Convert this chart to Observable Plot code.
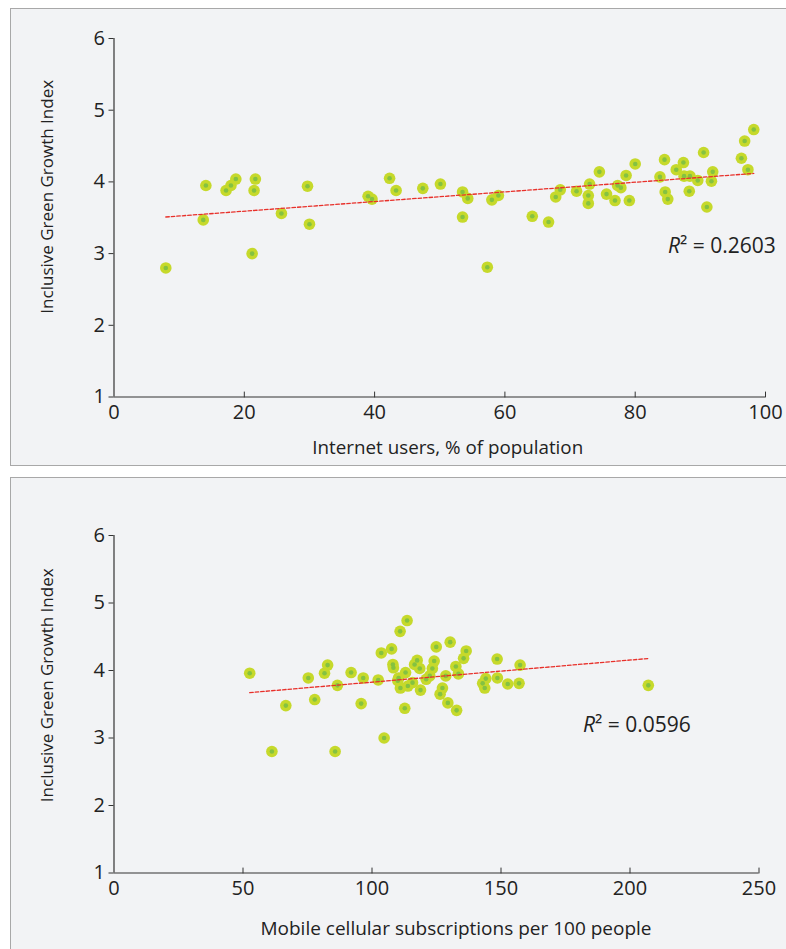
<!DOCTYPE html>
<html><head><meta charset="utf-8">
<script src="https://cdn.jsdelivr.net/npm/d3@7"></script>
<script src="https://cdn.jsdelivr.net/npm/@observablehq/plot@0.6"></script>
<style>
body{margin:0;background:#fff;width:786px;height:949px;overflow:hidden;position:relative;font-family:"Open Sans",sans-serif;}
.panel{position:absolute;left:10px;width:800px;background:#f2f3f5;border:1px solid #a8a8a8;overflow:hidden;}
#p1{top:8px;height:456px;}
#p2{top:477px;height:500px;}
.r2{position:absolute;font-size:21px;line-height:24px;color:#222;white-space:nowrap;}
</style></head><body>
<div class="panel" id="p1"></div>
<div class="panel" id="p2"></div>
<div class="r2" id="r2a"></div>
<div class="r2" id="r2b"></div>
<script>
// Top chart: Internet users (% of population) vs IGGI
const internetUsers = [7.95,13.7,14.1,17.2,17.95,18.7,21.2,21.5,21.7,25.7,29.7,30.0,39.0,39.6,42.3,43.3,47.4,50.1,53.5,54.3,53.5,57.3,58.0,59.0,64.2,66.7,67.8,68.5,71.0,72.8,72.8,73.0,74.5,75.6,76.9,77.3,77.8,78.6,79.1,80.0,83.8,84.5,84.6,85.0,86.3,87.4,87.5,88.4,88.3,89.6,90.5,91.0,91.7,91.9,96.3,96.8,97.3,98.2];
const iggiTop = [2.80,3.47,3.95,3.88,3.95,4.04,3.00,3.88,4.04,3.56,3.94,3.41,3.80,3.76,4.05,3.88,3.91,3.97,3.86,3.77,3.51,2.81,3.75,3.81,3.52,3.44,3.79,3.89,3.87,3.81,3.70,3.97,4.14,3.83,3.74,3.95,3.92,4.09,3.74,4.25,4.07,4.31,3.86,3.76,4.17,4.27,4.08,4.08,3.87,4.02,4.41,3.65,4.01,4.14,4.33,4.57,4.17,4.73];
// Bottom chart: Mobile cellular subscriptions per 100 people vs IGGI
const mobileSubs = [52.6,61.2,66.6,75.3,77.8,81.6,82.8,85.7,86.6,91.9,95.8,96.6,102.4,103.6,104.7,107.6,108.1,108.3,110.9,113.6,110.3,113.0,111.0,112.7,115.7,113.9,118.8,117.5,116.5,118.5,124.9,130.3,124.1,123.4,122.4,126.4,127.3,129.4,132.8,128.6,132.5,133.5,135.5,136.5,142.9,143.7,144.1,148.5,148.6,152.6,157.0,157.4,207.1,110.0,121.0];
const iggiBottom = [3.96,2.80,3.48,3.89,3.57,3.96,4.08,2.80,3.78,3.97,3.51,3.89,3.86,4.26,3.00,4.32,4.09,4.04,4.58,4.74,3.89,3.97,3.74,3.44,3.82,3.77,3.71,4.15,4.09,4.03,4.35,4.42,4.14,4.03,3.92,3.65,3.74,3.52,3.41,3.92,4.06,3.95,4.18,4.29,3.81,3.74,3.88,4.17,3.89,3.80,3.81,4.08,3.78,3.85,3.87];

const yTicks = [1,2,3,4,5,6];
const xTicksTop = [0,20,40,60,80,100];
const xTicksBottom = [0,50,100,150,200,250];
const yLabel = "Inclusive Green Growth Index";
const xLabelTop = "Internet users, % of population";
const xLabelBottom = "Mobile cellular subscriptions per 100 people";
const r2Top = "0.2603";
const r2Bottom = "0.0596";

const tickShape = {draw(ctx, l){ ctx.moveTo(0,0); ctx.lineTo(0,-l); }};

function chart({xs, ys, xDomain, xTicks, xLabel, height, marginTop, marginBottom, marginRight, xLabelDx, xLabelDy, xLabelSize, yLabelDy}) {
  const data = xs.map((x,i)=>({x, y: ys[i]}));
  return Plot.plot({
    width: 790, height, marginLeft: 102.5, marginRight, marginTop, marginBottom,
    style: {background:"transparent", fontFamily:"'Open Sans', sans-serif", fontSize:"20px", color:"#222", overflow:"visible"},
    x: {domain: xDomain},
    y: {domain: [1,6]},
    marks: [
      Plot.axisY(yTicks, {tickSize:5, tickPadding:4, fontSize:20, label:null, stroke:"#333", tickFormat: d => String(d)}),
      Plot.axisX(xTicks, {tickSize:0, tickPadding:8, fontSize:20, label:null, tickFormat: d => String(d)}),
      Plot.vector(xTicks.slice(1), {x: d=>d, y: ()=>1, length:5, shape: tickShape, anchor:"start", stroke:"#333", strokeWidth:1}),
      Plot.ruleX([xDomain[0]], {stroke:"#333", strokeWidth:1.2}),
      Plot.ruleY([1], {stroke:"#333", strokeWidth:1.2}),
      Plot.dot(data, {x:"x", y:"y", r:5.8, fill:"#c6d92b"}),
      Plot.dot(data, {x:"x", y:"y", r:2.3, fill:"#84c241"}),
      Plot.linearRegressionY(data, {x:"x", y:"y", ci:0, stroke:"#e8302a", strokeWidth:1.3, strokeDasharray:"3.5,2"}),
      Plot.text([yLabel], {text: d=>d, frameAnchor:"left", rotate:-90, dx:-66.5, dy:yLabelDy, fontSize:17, lineAnchor:"middle", textAnchor:"middle", fill:"#222"}),
      Plot.text([xLabel], {text: d=>d, frameAnchor:"bottom", dx:xLabelDx, dy:xLabelDy, fontSize:xLabelSize, lineAnchor:"middle", fill:"#222"})
    ]
  });
}

document.getElementById("p1").append(chart({
  xs: internetUsers, ys: iggiTop, xDomain:[0,100], xTicks: xTicksTop, xLabel: xLabelTop,
  height: 440, marginTop: 29, marginBottom: 52.5, marginRight: 36, xLabelDx: 8, xLabelDy: 50.5, xLabelSize: 18.8, yLabelDy: -21
}));
document.getElementById("p2").append(chart({
  xs: mobileSubs, ys: iggiBottom, xDomain:[0,250], xTicks: xTicksBottom, xLabel: xLabelBottom,
  height: 470, marginTop: 57, marginBottom: 75.5, marginRight: 42.5, xLabelDx: 19.5, xLabelDy: 55.5, xLabelSize: 19, yLabelDy: -19
}));

function r2(el, val, left, top){
  const d = document.getElementById(el);
  d.innerHTML = "<i>R</i>² = " + val;
  d.style.left = left + "px"; d.style.top = top + "px";
}
r2("r2a", r2Top, 668, 233);
r2("r2b", r2Bottom, 583, 712);
</script>
</body></html>
